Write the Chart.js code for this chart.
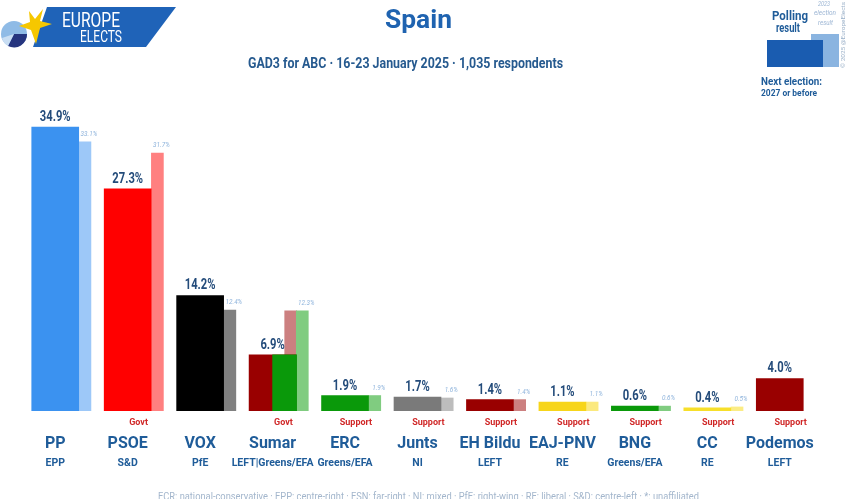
<!DOCTYPE html>
<html>
<head>
<meta charset="utf-8">
<script src="https://cdn.jsdelivr.net/npm/chart.js@4.4.1/dist/chart.umd.min.js"></script>
<style>
  body { margin: 0; background: #fff; }
  #wrap { position: relative; width: 850px; height: 499px; overflow: hidden; }
  #wrap canvas, #wrap svg { position: absolute; left: 0; top: 0; }
  svg text { font-family: Roboto, sans-serif; }
</style>
</head>
<body>
<div id="wrap">
  <canvas id="canvas" width="850" height="499"></canvas>

  <svg width="850" height="499">
    <!-- logo -->
    <polygon points="47,7 176,7 146,47 33,47" fill="#1f63b8"/>
    <circle cx="14" cy="34" r="13" fill="#8fbbe6"/>
    <path d="M14,34 L27,34 A13,13 0 0 1 8,46 Z" fill="#26357f"/>
    <path d="M14,34 L8,46 A13,13 0 0 1 2,38 Z" fill="#c9def3"/>
    <polygon points="43,9 40,21 52,24 40,28 36,44 31,30 19,26 30,22 29,11 35,19" fill="#f6c700"/>
    <text x="62" y="27" fill="#fff" font-size="20" textLength="58" lengthAdjust="spacingAndGlyphs">EUROPE</text>
    <text x="80" y="42" fill="#fff" font-size="16" textLength="42" lengthAdjust="spacingAndGlyphs">ELECTS</text>

    <!-- title -->
    <text x="385" y="28" fill="#1f63b0" font-size="26" font-weight="bold" textLength="67" lengthAdjust="spacingAndGlyphs">Spain</text>
    <text x="248" y="68" fill="#265a8f" font-size="14" font-weight="bold" textLength="315" lengthAdjust="spacingAndGlyphs">GAD3 for ABC · 16-23 January 2025 · 1,035 respondents</text>

    <!-- key -->
    <rect x="811" y="34" width="28" height="33" fill="#8ab4e0"/>
    <rect x="767" y="40" width="56" height="27" fill="#1a5cb0"/>
    <text x="772" y="20" fill="#1f5c99" font-size="12" font-weight="bold" textLength="36" lengthAdjust="spacingAndGlyphs">Polling</text>
    <text x="776" y="32" fill="#1f5c99" font-size="12" font-weight="bold" textLength="24" lengthAdjust="spacingAndGlyphs">result</text>
    <text x="818" y="6" fill="#9db6d4" font-size="7" font-style="italic" textLength="12" lengthAdjust="spacingAndGlyphs">2023</text>
    <text x="814" y="15" fill="#9db6d4" font-size="7" font-style="italic" textLength="22" lengthAdjust="spacingAndGlyphs">election</text>
    <text x="818" y="25" fill="#9db6d4" font-size="7" font-style="italic" textLength="15" lengthAdjust="spacingAndGlyphs">result</text>
    <text x="761" y="85" fill="#1f5c99" font-size="11" font-weight="bold" textLength="61" lengthAdjust="spacingAndGlyphs">Next election:</text>
    <text x="761" y="96" fill="#1f5c99" font-size="9" font-weight="bold" textLength="56" lengthAdjust="spacingAndGlyphs">2027 or before</text>
    <text transform="translate(845,68) rotate(-90)" fill="#9ab0c8" font-size="6" textLength="66" lengthAdjust="spacingAndGlyphs">© 2025 @EuropeElects</text>

    <!-- footer -->
    <text x="158" y="500" fill="#a3b6cc" font-size="10" textLength="541" lengthAdjust="spacingAndGlyphs">ECR: national-conservative · EPP: centre-right · ESN: far-right · NI: mixed · PfE: right-wing · RE: liberal · S&amp;D: centre-left · *: unaffiliated</text>
  </svg>
</div>

<script>
// polling data
const parties = ["PP", "PSOE", "VOX", "Sumar", "ERC", "Junts", "EH Bildu", "EAJ-PNV", "BNG", "CC", "Podemos"];
const groups = ["EPP", "S&D", "PfE", "LEFT|Greens/EFA", "Greens/EFA", "NI", "LEFT", "RE", "Greens/EFA", "RE", "LEFT"];
const status = ["", "Govt", "", "Govt", "Support", "Support", "Support", "Support", "Support", "Support", "Support"];
const poll = [34.9, 27.3, 14.2, 6.9, 1.9, 1.7, 1.4, 1.1, 0.6, 0.4, 4.0];
const result2023 = [33.1, 31.7, 12.4, 12.3, 1.9, 1.6, 1.4, 1.1, 0.6, 0.5, null];
// Sumar's bar is split in two colours
const sumarIndex = 3;
const sumarGreenShare = 6.9;
const sumarPinkPrev = 12.3;

const mainColors = ["#3b92f0", "#ff0000", "#000000", "#990000", "#0a990a", "#7a7a7a", "#990000", "#f7d51a", "#0a990a", "#f7df2a", "#990000"];
const prevColors = ["#9dc8f8", "#ff8080", "#808080", "#80cc80", "#80cc80", "#bdbdbd", "#cc8080", "#fbe97f", "#80cc80", "#fbec85", "#cc8080"];

const FONT = "Roboto, sans-serif";
const BLUE = "#1f5c99";

// condensed text for the value labels
function squeezed(ctx, text, x, y, sx) {
  ctx.save();
  ctx.translate(x, y);
  ctx.scale(sx, 1);
  ctx.fillText(text, 0, 0);
  ctx.restore();
}

const valueLabels = {
  id: "valueLabels",
  afterDatasetsDraw(chart) {
    const ctx = chart.ctx;
    ctx.save();
    ctx.textAlign = "center";
    ctx.textBaseline = "alphabetic";
    chart.data.datasets.forEach((ds, di) => {
      if (!ds.labelKind) return;
      const meta = chart.getDatasetMeta(di);
      meta.data.forEach((bar, i) => {
        const v = ds.data[i].y;
        if (v == null) return;
        if (ds.labelKind === "main") {
          ctx.font = "bold 14px " + FONT;
          ctx.fillStyle = "#234b7a";
          squeezed(ctx, v.toFixed(1) + "%", chart.scales.x.getPixelForValue(i), bar.y - 6, 0.8);
        } else {
          ctx.font = "italic 8px " + FONT;
          ctx.fillStyle = "#8fb4dc";
          squeezed(ctx, v.toFixed(1) + "%", bar.x + 4, bar.y - 6, 0.8);
        }
      });
    });
    ctx.restore();
  }
};

function axis(weight, shift, labels, font, color, padding) {
  return {
    type: "linear",
    position: "bottom",
    weight: weight,
    offset: false,
    min: -0.5 - shift,
    max: 10.5 - shift,
    grid: { display: false, offset: false, drawTicks: false },
    border: { display: false },
    afterBuildTicks: (scale) => {
      scale.ticks = labels.map((_, i) => ({ value: i }));
    },
    ticks: {
      autoSkip: false,
      maxRotation: 0,
      padding: padding,
      color: color,
      font: font,
      callback: (v) => labels[v] ?? ""
    }
  };
}

new Chart(document.getElementById("canvas").getContext("2d"), {
  type: "bar",
  data: {
    datasets: [
      {
        label: "2023 (Sumar part)",
        data: [{ x: sumarIndex + 0.25, y: sumarPinkPrev }],
        backgroundColor: "#cc8080",
        barThickness: 12,
        order: 4
      },
      {
        label: "2023 election",
        data: result2023.map((v, i) => ({ x: i + 0.41, y: v })),
        backgroundColor: prevColors,
        barThickness: 12,
        order: 3,
        labelKind: "prev"
      },
      {
        label: "Polling",
        data: poll.map((v, i) => ({ x: i, y: v })),
        backgroundColor: mainColors,
        barThickness: 47,
        order: 2,
        labelKind: "main"
      },
      {
        label: "Sumar (green)",
        data: [{ x: sumarIndex + 0.166, y: sumarGreenShare }],
        backgroundColor: "#0a990a",
        barThickness: 24,
        order: 1
      }
    ]
  },
  options: {
    responsive: false,
    animation: false,
    devicePixelRatio: 1,
    layout: { padding: { top: 110, left: 19, right: 34, bottom: 26 } },
    plugins: {
      legend: { display: false },
      tooltip: { enabled: false }
    },
    datasets: { bar: { grouped: false, borderWidth: 0, xAxisID: "x", yAxisID: "y" } },
    scales: {
      x: axis(2, 0, parties, { size: 16, weight: "bold", family: FONT, lineHeight: "18px" }, BLUE, 0),
      y: { display: false, min: 0, max: 37 },
      xStatus: axis(1, 0.15, status, { size: 9, weight: "bold", family: FONT, lineHeight: "12px" }, "#d02828", 6),
      xGroup: axis(3, 0, groups, { size: 10.5, weight: "bold", family: FONT, lineHeight: "12px" }, BLUE, 4)
    }
  },
  plugins: [valueLabels]
});
</script>
</body>
</html>
